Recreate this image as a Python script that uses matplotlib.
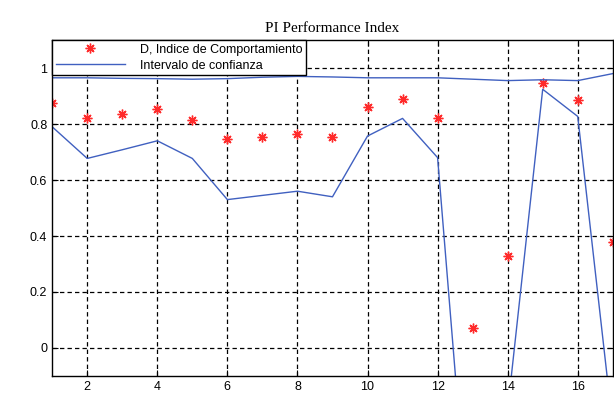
import numpy as np
import matplotlib
matplotlib.use("Agg")
import matplotlib.pyplot as plt

# datos
x = [1, 2, 3, 4, 5, 6, 7, 8, 9, 10, 11, 12, 13, 14, 15, 16, 17]
indice = [0.876, 0.82, 0.835, 0.855, 0.815, 0.745, 0.755, 0.765, 0.755,
          0.86, 0.89, 0.82, 0.07, 0.33, 0.945, 0.885, 0.38]
ic_sup = [0.965, 0.965, 0.963, 0.962, 0.960, 0.962, 0.967, 0.970, 0.968,
          0.965, 0.965, 0.965, 0.960, 0.955, 0.958, 0.955, 0.980]
ic_inf = [0.79, 0.677, 0.708, 0.74, 0.677, 0.53, 0.545, 0.56, 0.54,
          0.757, 0.82, 0.68, -0.85, -0.22, 0.924, 0.827, -0.28]
yticks = [0, 0.2, 0.4, 0.6, 0.8, 1]
ytick_labels = ["0", "0.2", "0.4", "0.6", "0.8", "1"]
xticks = [2, 4, 6, 8, 10, 12, 14, 16]

plt.rcParams['font.family'] = ['Liberation Sans', 'DejaVu Sans']

fig = plt.figure(figsize=(6.14, 4.0), dpi=100)
ax = fig.add_axes([0.085, 0.06, 0.913, 0.84])

azul = '#4060C0'
asterisco = (8, 2, 0)  # asterisco estilo MATLAB (+ y x)

ax.plot(x, indice, linestyle='none', marker=asterisco, markersize=7,
        markeredgewidth=1.0, color='#FF2A2A', label='D, Indice de Comportamiento')
ax.plot(x, ic_sup, color=azul, linewidth=1.0, label='Intervalo de confianza')
ax.plot(x, ic_inf, color=azul, linewidth=1.0)

ax.set_xlim(1, 17)
ax.set_ylim(-0.1, 1.1)
ax.set_xticks(xticks)
ax.set_yticks(yticks)
ax.set_yticklabels(ytick_labels)
ax.tick_params(direction='in', labelsize=9, length=4, top=True, right=True)

ax.grid(True, color='black', linestyle=(0, (3.5, 2.5)), linewidth=0.9)
for s in ax.spines.values():
    s.set_linewidth(1.0)
    s.set_color('black')

ax.set_title('PI Performance Index', family='Liberation Serif', fontsize=11, pad=6)

leg = ax.legend(loc='upper left', prop={'size': 9}, frameon=True, fancybox=False,
                borderaxespad=0, handlelength=5.5, handletextpad=1.2,
                borderpad=0.3, labelspacing=0.3, framealpha=1)
leg.get_frame().set_edgecolor('black')
leg.get_frame().set_linewidth(1.0)

fig.savefig('out.png', dpi=100)
